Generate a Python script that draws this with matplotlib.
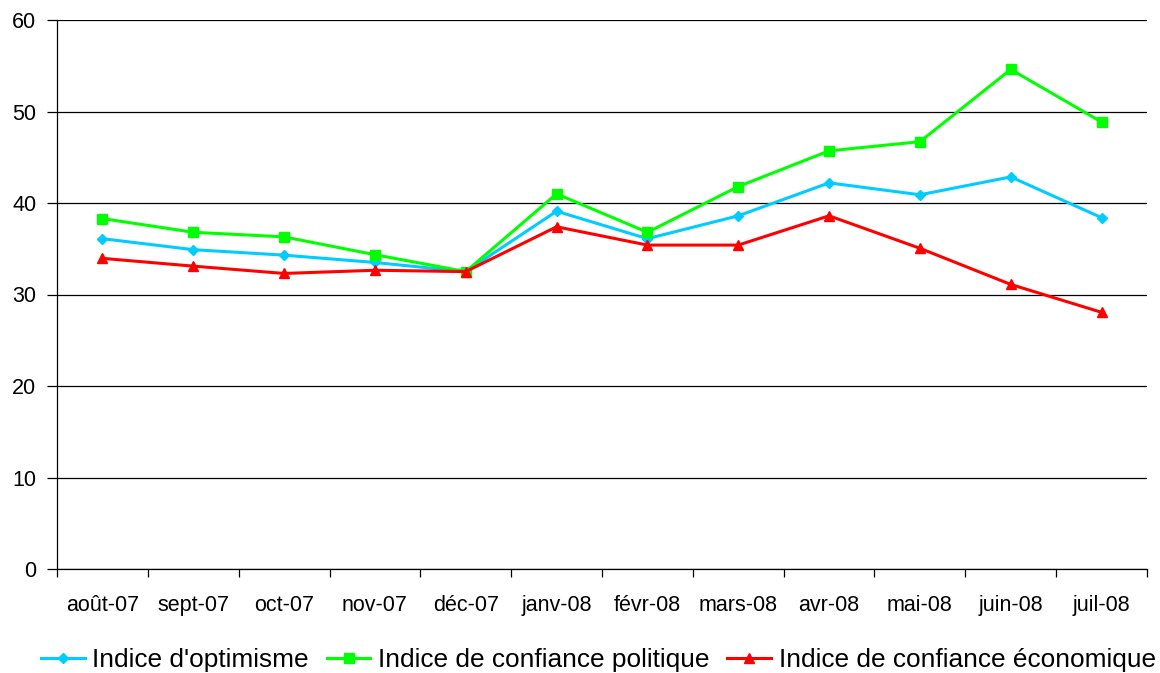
import matplotlib
matplotlib.use("Agg")
import matplotlib.pyplot as plt
import numpy as np

plt.rcParams['font.family'] = ['Liberation Sans', 'DejaVu Sans']

months = ["août-07", "sept-07", "oct-07", "nov-07", "déc-07", "janv-08",
          "févr-08", "mars-08", "avr-08", "mai-08", "juin-08", "juil-08"]
optimisme = [36.1, 34.9, 34.3, 33.5, 32.5, 39.1, 36.1, 38.6, 42.2, 40.9, 42.85, 38.4]
politique = [38.3, 36.8, 36.3, 34.35, 32.5, 41.0, 36.8, 41.8, 45.7, 46.7, 54.6, 48.85]
economique = [33.95, 33.1, 32.3, 32.65, 32.5, 37.4, 35.4, 35.4, 38.6, 35.05, 31.1, 28.05]

labels = ["Indice d'optimisme", "Indice de confiance politique",
          "Indice de confiance économique"]

fig = plt.figure(figsize=(11.6, 6.73), dpi=100)
ax = fig.add_axes([57/1160, 1 - 569/673, (1147 - 57)/1160, (569 - 20)/673])

x = np.arange(len(months))
ax.plot(x, optimisme, color='#00CCFF', lw=2.2, marker='D', ms=5.5, label=labels[0], zorder=3)
ax.plot(x, politique, color='#00FF00', lw=2.2, marker='s', ms=6.5, label=labels[1], zorder=3)
ax.plot(x, economique, color='#FF0000', lw=2.2, marker='^', ms=7.5, label=labels[2], zorder=4)

ax.set_xlim(-0.5, len(months) - 0.5)
ax.set_ylim(0, 60)
ax.set_yticks(np.arange(0, 61, 10))
ax.yaxis.grid(True, color='black', lw=0.9)
ax.set_axisbelow(True)

ax.set_xticks(np.arange(-0.5, len(months), 1.0))
ax.set_xticklabels([])
ax.set_xticks(x, minor=True)
ax.set_xticklabels(months, minor=True)
ax.tick_params(axis='x', which='major', direction='out', length=6, width=0.9, color='black')
ax.tick_params(axis='x', which='minor', length=0, labelsize=15.5, pad=19)
ax.tick_params(axis='y', direction='out', length=7, width=0.9, labelsize=15.5, pad=8)

for s in ['top', 'right']:
    ax.spines[s].set_visible(False)
for s in ['left', 'bottom']:
    ax.spines[s].set_color('black')
    ax.spines[s].set_linewidth(0.9)

leg = fig.legend(loc='center', bbox_to_anchor=(598.5/1160, 1 - 660/673), ncol=3, frameon=False,
                 fontsize=18.9, handlelength=1.65, handletextpad=0.3, columnspacing=0.68,
                 borderaxespad=0, borderpad=0)

fig.savefig("out.png", dpi=100)
